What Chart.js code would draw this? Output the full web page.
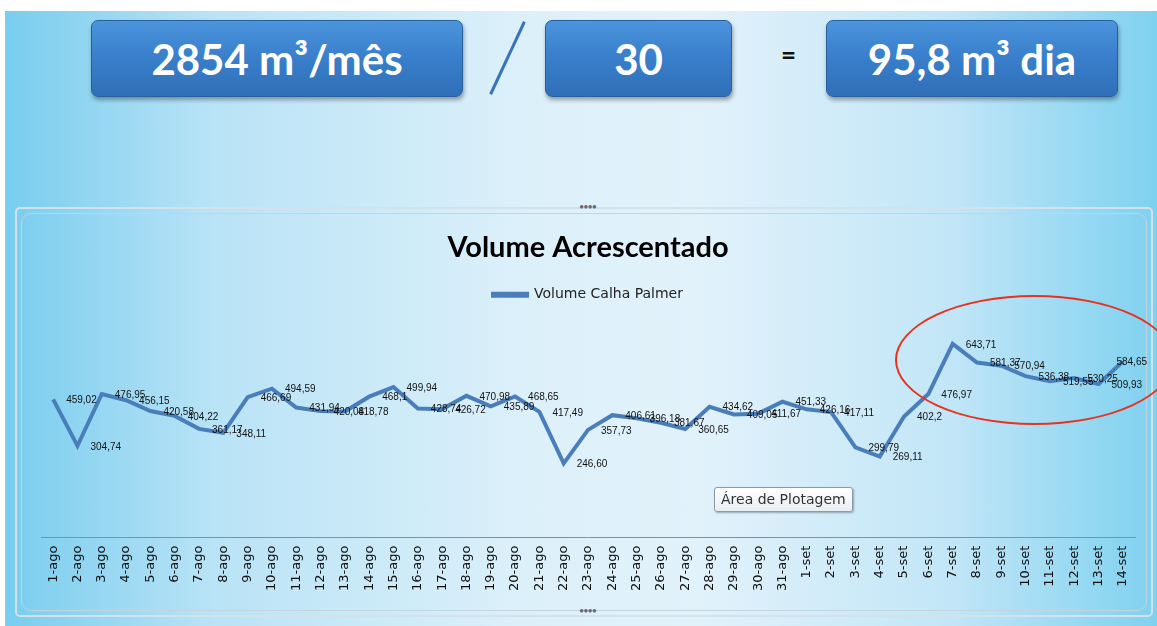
<!DOCTYPE html>
<html>
<head>
<meta charset="utf-8">
<script src="https://cdn.jsdelivr.net/npm/chart.js@4/dist/chart.umd.min.js"></script>
<style>
  html, body { margin: 0; padding: 0; background: #fff; }
  body { width: 1157px; height: 626px; position: relative; overflow: hidden; font-family: Lato, "Open Sans", sans-serif; }
  #slide {
    position: absolute; left: 5px; top: 11px; width: 1152px; height: 615px;
    background: linear-gradient(90deg, #78cdee 0%, #b9e3f6 18%, #dcf0fa 45%, #e2f2fb 60%, #c2e6f7 82%, #7fd1f0 100%);
  }
  .caixa {
    position: absolute; top: 20px; height: 75px;
    background: linear-gradient(180deg, #4b95dd 0%, #3a80cc 45%, #2f6fb8 100%);
    border-radius: 7px; border: 1px solid #2a5f9e;
    box-shadow: 1px 3px 4px rgba(0,0,0,0.35);
    color: #fff; font-weight: 700; font-size: 42px;
    display: flex; align-items: center; justify-content: center;
  }
  #barra { position: absolute; left: 506px; top: 18px; width: 3px; height: 80px; background: #3a74b8; transform: rotate(25deg); }
  #igual { position: absolute; left: 781px; top: 38px; font-size: 26px; font-weight: 700; color: #111; }
  #moldura {
    position: absolute; left: 15px; top: 207px; width: 1134px; height: 406px;
    border: 2px solid #d3e2ea; border-radius: 5px;
  }
  #interna {
    position: absolute; left: 4px; top: 4px; right: 4px; bottom: 4px;
    border: 1px solid #c3d5df; border-radius: 10px;
  }
  #wrap { position: absolute; left: 15px; top: 210px; width: 1136px; height: 405px; }
  #elipse {
    position: absolute; left: 895px; top: 295px; width: 275px; height: 126px;
    border: 2px solid #e8321e; border-radius: 50%;
  }
  #dica {
    position: absolute; left: 714px; top: 487px; padding: 2px 6px; height: 19px;
    background: linear-gradient(180deg, #ffffff, #e8eef3); border: 1px solid #8a9aa6; border-radius: 3px;
    font-family: "DejaVu Sans", sans-serif; font-size: 14px; color: #333; line-height: 19px;
    box-shadow: 1px 1px 2px rgba(0,0,0,0.3);
  }
  .alca { position: absolute; font-size: 9px; color: #667; letter-spacing: -1px; }
</style>
</head>
<body>
<div id="slide"></div>
<div class="caixa" style="left:91px; width:370px;">2854 m³/mês</div>
<div id="barra"></div>
<div class="caixa" style="left:545px; width:185px;">30</div>
<div id="igual">=</div>
<div class="caixa" style="left:826px; width:290px;">95,8 m³ dia</div>
<div id="moldura"><div id="interna"></div></div>
<div class="alca" style="left:579px; top:201px;">••••</div>
<div class="alca" style="left:579px; top:605px;">••••</div>
<div id="wrap"><canvas id="grafico"></canvas></div>
<div id="elipse"></div>
<div id="dica">Área de Plotagem</div>
<script>
const dias = ['1-ago','2-ago','3-ago','4-ago','5-ago','6-ago','7-ago','8-ago','9-ago','10-ago',
  '11-ago','12-ago','13-ago','14-ago','15-ago','16-ago','17-ago','18-ago','19-ago','20-ago',
  '21-ago','22-ago','23-ago','24-ago','25-ago','26-ago','27-ago','28-ago','29-ago','30-ago','31-ago',
  '1-set','2-set','3-set','4-set','5-set','6-set','7-set','8-set','9-set','10-set','11-set','12-set','13-set','14-set'];

const volume = [459.02, 304.74, 476.95, 456.15, 420.58, 404.22, 361.17, 348.11, 466.69, 494.59,
  431.94, 420.08, 418.78, 468.1, 499.94, 428.74, 426.72, 470.98, 435.89, 468.65,
  417.49, 246.60, 357.73, 406.61, 396.18, 381.67, 360.65, 434.62, 409.05, 411.67, 451.33,
  426.16, 417.11, 299.79, 269.11, 402.2, 476.97, 643.71, 581.37, 570.94, 536.38, 519.55, 530.25, 509.93, 584.65];

const rotulos = ['459,02','304,74','476,95','456,15','420,58','404,22','361,17','348,11','466,69','494,59',
  '431,94','420,08','418,78','468,1','499,94','428,74','426,72','470,98','435,89','468,65',
  '417,49','246,60','357,73','406,61','396,18','381,67','360,65','434,62','409,05','411,67','451,33',
  '426,16','417,11','299,79','269,11','402,2','476,97','643,71','581,37','570,94','536,38','519,55','530,25','509,93','584,65'];

// rotulos de dados a direita de cada ponto
const rotulosPlugin = {
  id: 'rotulos',
  afterDatasetsDraw(chart) {
    const ctx = chart.ctx;
    const meta = chart.getDatasetMeta(0);
    ctx.save();
    ctx.font = '10px "Liberation Sans", sans-serif';
    ctx.fillStyle = '#111';
    ctx.textBaseline = 'middle';
    meta.data.forEach((p, i) => {
      const w = ctx.measureText(rotulos[i]).width;
      let x = p.x + 13;
      if (x + w > chart.width - 4) x = chart.width - 4 - w;
      ctx.fillText(rotulos[i], x, p.y + 1);
    });
    ctx.restore();
  }
};

new Chart(document.getElementById('grafico'), {
  type: 'line',
  data: {
    labels: dias,
    datasets: [{
      label: 'Volume Calha Palmer',
      data: volume,
      borderColor: '#4a7ebb',
      backgroundColor: '#4a7ebb',
      borderWidth: 4,
      pointRadius: 0,
      tension: 0
    }]
  },
  options: {
    responsive: true,
    maintainAspectRatio: false,
    animation: false,
    layout: { padding: { left: 26, right: 16, top: 0, bottom: 16 } },
    plugins: {
      title: {
        display: true,
        text: 'Volume Acrescentado',
        color: '#000',
        font: { family: 'Lato', size: 29, weight: 'bold' },
        padding: { top: 20, bottom: 13 }
      },
      legend: {
        labels: {
          color: '#222',
          font: { family: '"DejaVu Sans"', size: 14 },
          boxWidth: 34,
          boxHeight: 2
        }
      },
      tooltip: { enabled: false }
    },
    scales: {
      x: {
        offset: true,
        grid: { display: false, drawTicks: false },
        border: { color: '#8a8f94', width: 1 },
        ticks: {
          minRotation: 90, maxRotation: 90, autoSkip: false,
          color: '#111',
          padding: 8,
          font: { family: '"DejaVu Sans"', size: 13 }
        }
      },
      y: {
        display: false,
        min: 0,
        max: 750
      }
    }
  },
  plugins: [rotulosPlugin]
});
</script>
</body>
</html>
